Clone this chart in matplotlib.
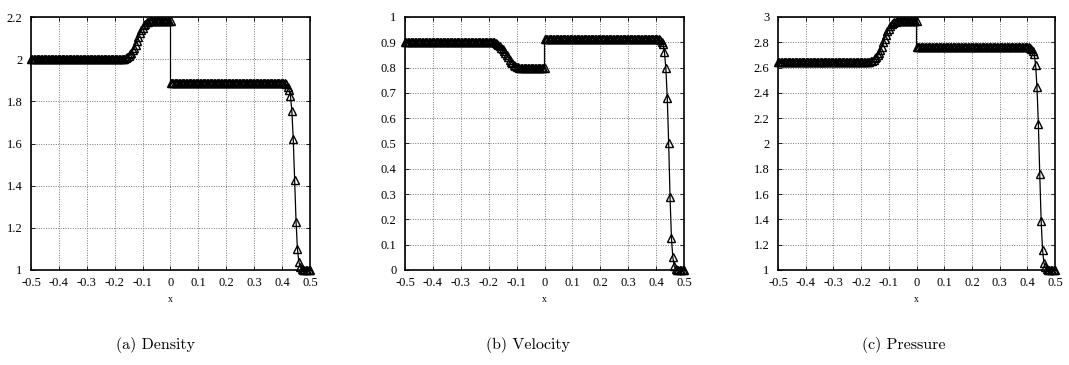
import numpy as np
import matplotlib
matplotlib.use("Agg")
import matplotlib.pyplot as plt
from matplotlib.ticker import FuncFormatter

plt.rcParams["axes.unicode_minus"] = False
plt.rcParams["font.family"] = ["Liberation Serif", "DejaVu Serif"]

# mesh nodes (double node at the contact, x = 0)
x_left = np.linspace(-0.5, 0.0, 101)
x_right = np.linspace(0.0, 0.5, 101)

# density
rho_left = ([2.0] * 66
            + [2.001, 2.003, 2.005, 2.010, 2.016, 2.024, 2.030, 2.042, 2.054, 2.068,
               2.088, 2.105, 2.122, 2.137, 2.150, 2.160, 2.168, 2.174, 2.178, 2.180, 2.182]
            + [2.183] * 14)
rho_right = ([1.889] * 81
             + [1.888, 1.886, 1.880, 1.870, 1.855, 1.825, 1.754, 1.619, 1.429, 1.230,
                1.098, 1.040, 1.016, 1.005]
             + [1.0] * 6)

# velocity
vel_left = ([0.903] * 63
            + [0.902, 0.901, 0.898, 0.895, 0.890, 0.885, 0.879, 0.872, 0.864, 0.856,
               0.848, 0.840, 0.832, 0.824, 0.817, 0.811, 0.806, 0.803, 0.801, 0.800, 0.799]
            + [0.797] * 17)
vel_right = ([0.915] * 81
             + [0.914, 0.912, 0.909, 0.903, 0.893, 0.860, 0.797, 0.681, 0.503, 0.287,
                0.126, 0.050, 0.016, 0.004]
             + [0.0] * 6)

# pressure
p_left = ([2.645] * 66
          + [2.647, 2.650, 2.654, 2.663, 2.673, 2.687, 2.698, 2.719, 2.740, 2.764,
             2.800, 2.830, 2.860, 2.886, 2.909, 2.926, 2.941, 2.951, 2.958, 2.962, 2.965]
          + [2.967] * 14)
p_right = ([2.765] * 81
           + [2.763, 2.758, 2.750, 2.735, 2.705, 2.620, 2.443, 2.152, 1.755, 1.390,
              1.159, 1.058, 1.020, 1.005]
           + [1.0] * 6)

panels = [
    ("(a) Density", rho_left, rho_right, (1.0, 2.2), np.arange(1.0, 2.21, 0.2)),
    ("(b) Velocity", vel_left, vel_right, (0.0, 1.0), np.arange(0.0, 1.01, 0.1)),
    ("(c) Pressure", p_left, p_right, (1.0, 3.0), np.arange(1.0, 3.01, 0.2)),
]
x_ticks = np.arange(-0.5, 0.51, 0.1)

lefts = [31, 405, 778]
widths = [279, 279, 277]
caption_x = [155, 528, 904]
W, H = 1069, 365

fig = plt.figure(figsize=(W / 100, H / 100), dpi=100)


def fmt(v, pos):
    v = round(v, 6)
    if abs(v) < 1e-9:
        return "0"
    return f"{v:g}"


for idx, (caption, y_l, y_r, ylim, yticks) in enumerate(panels):
    ax = fig.add_axes([lefts[idx] / W, 1 - 270 / H, widths[idx] / W, 253 / H])
    xs = np.concatenate([x_left, x_right])
    ys = np.concatenate([y_l, y_r])
    ax.plot(xs, ys, color="black", linewidth=0.9, marker="^", markersize=5.5,
            markerfacecolor="none", markeredgecolor="black", markeredgewidth=1.0,
            clip_on=False, zorder=3)
    ax.set_xlim(-0.5, 0.5)
    ax.set_ylim(*ylim)
    ax.set_xticks(x_ticks)
    ax.set_yticks(yticks)
    ax.xaxis.set_major_formatter(FuncFormatter(fmt))
    ax.yaxis.set_major_formatter(FuncFormatter(fmt))
    ax.tick_params(direction="in", length=3, width=0.6, labelsize=9,
                   top=True, right=True)
    ax.tick_params(axis="x", pad=5)
    ax.tick_params(axis="y", pad=6)
    ax.grid(True, color="#777777", linestyle=(0, (1, 1.5)), linewidth=0.7)
    for sp in ax.spines.values():
        sp.set_linewidth(1.2)
    ax.set_xlabel("x", fontsize=7, labelpad=4)
    fig.text(caption_x[idx] / W, 20 / H, caption, ha="center", va="center",
             fontsize=11.5, family="cmr10")

fig.savefig("out.png", dpi=100)
